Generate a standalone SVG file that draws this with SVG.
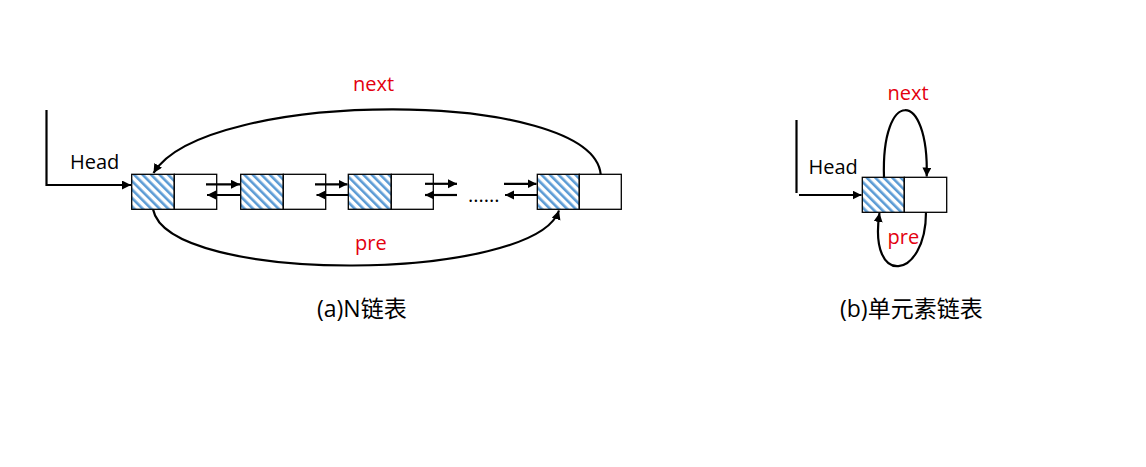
<svg xmlns="http://www.w3.org/2000/svg" width="1146" height="467" viewBox="0 0 1146 467">
<style>
.lbl{font-family:"Open Sans","Noto Sans","Noto Sans CJK SC",sans-serif;font-size:20px;fill:#000}
.red{fill:#e3000f;font-size:20px}
.cap{font-family:"Open Sans","Noto Sans CJK SC",sans-serif;font-size:23px;fill:#000}
.cell{fill:#fff;stroke:#000;stroke-width:1.3}
.hat{fill:url(#hatch);stroke:#000;stroke-width:1.3}
.ln{fill:none;stroke:#000;stroke-width:2.2}
.cv{fill:none;stroke:#000;stroke-width:2.2;marker-end:url(#ah)}
</style>
<defs>
<pattern id="hatch" patternUnits="userSpaceOnUse" width="6" height="6" patternTransform="rotate(-45)">
<rect width="6" height="6" fill="#fff"/>
<rect x="0" y="0" width="2.6" height="6" fill="#5b9bd5"/>
</pattern>
<marker id="ah" markerWidth="10" markerHeight="10" refX="9" refY="4.5" orient="auto" markerUnits="userSpaceOnUse">
<path d="M0,0 L9,4.5 L0,9 Z" fill="#000"/>
</marker>
</defs>
<rect width="1146" height="467" fill="#fff"/>

<g id="head-a">
<polyline class="ln" points="46.5,110 46.5,185 131,185" marker-end="url(#ah)"/>
<text class="lbl" x="70" y="168.5">Head</text>
</g>
<g id="node-a1"><rect class="hat" x="131.7" y="174.3" width="42.6" height="35"/><rect class="cell" x="174.3" y="174.3" width="42.4" height="35"/></g>
<g id="node-a2"><rect class="hat" x="240.7" y="174.3" width="42.6" height="35"/><rect class="cell" x="283.3" y="174.3" width="42.4" height="35"/></g>
<g id="node-a3"><rect class="hat" x="348.3" y="174.3" width="43" height="35"/><rect class="cell" x="391.3" y="174.3" width="42" height="35"/></g>
<g id="dots"><text class="lbl" x="468" y="202">......</text></g>
<g id="node-a4"><rect class="hat" x="537.3" y="174.3" width="42" height="35"/><rect class="cell" x="579.3" y="174.3" width="42" height="35"/></g>

<g id="connectors">
<line class="cv" x1="206" y1="184.3" x2="240" y2="184.3"/>
<line class="cv" x1="240.7" y1="195" x2="207" y2="195"/>
<line class="cv" x1="315" y1="184.3" x2="347.5" y2="184.3"/>
<line class="cv" x1="348.3" y1="195" x2="316.5" y2="195"/>
<line class="cv" x1="425" y1="183.8" x2="457" y2="183.8"/>
<line class="cv" x1="457" y1="195" x2="425" y2="195"/>
<line class="cv" x1="504" y1="183.8" x2="536.5" y2="183.8"/>
<line class="cv" x1="537.3" y1="195" x2="505" y2="195"/>
<path class="cv" d="M600.7,174.3 C592,88 205,88 153.5,173"/>
<path class="cv" d="M153,209.3 C168,286 535,282 559,210.5"/>
<path class="cv" d="M884,177.3 C881,88 929,88 926.7,176.5"/>
<path class="cv" d="M926,212.3 C926,280 868,288 879.5,213"/>
</g>
<g id="labels-a">
<text class="lbl red" x="353" y="90.5">next</text>
<text class="lbl red" x="355" y="250">pre</text>
<text class="cap" x="317" y="317">(a)N链表</text>
</g>

<g id="head-b">
<line class="ln" x1="796.5" y1="120" x2="796.5" y2="193"/>
<line class="cv" x1="799" y1="195" x2="861.5" y2="195"/>
<text class="lbl" x="808.5" y="174">Head</text>
</g>
<g id="node-b"><rect class="hat" x="862.3" y="177.3" width="42" height="35"/><rect class="cell" x="904.3" y="177.3" width="42.4" height="35"/></g>
<g id="labels-b">
<text class="lbl red" x="887.5" y="100">next</text>
<text class="lbl red" x="887.5" y="243.5">pre</text>
<text class="cap" x="840" y="317">(b)单元素链表</text>
</g>
</svg>
